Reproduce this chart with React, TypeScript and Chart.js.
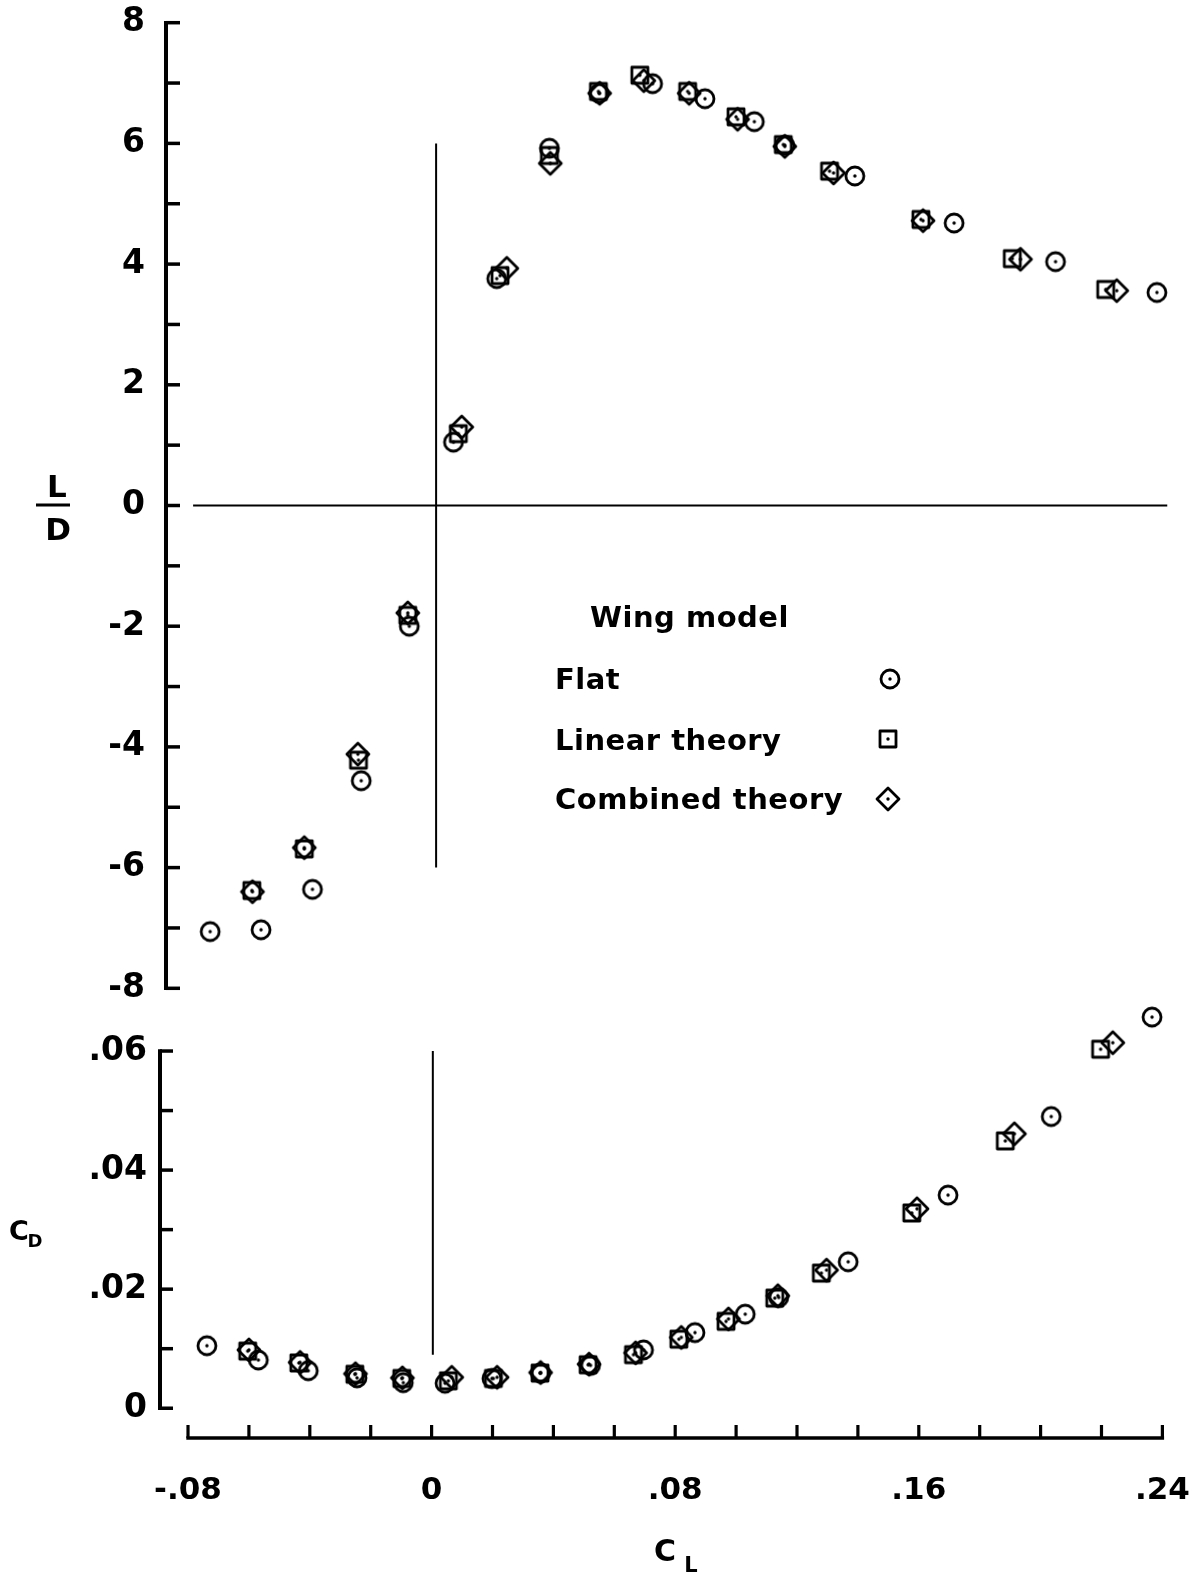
import React, { useEffect, useRef } from "react";
import { Chart, registerables } from "chart.js";

Chart.register(...registerables);

// ---------------- data ----------------
// Upper panel: L/D against C_L
const flatTopCL = [-0.0727, -0.056, -0.0391, -0.0231, -0.0073, 0.0072, 0.0214, 0.0387, 0.055, 0.0726, 0.0898, 0.106, 0.116, 0.139, 0.1716, 0.2049, 0.2382];
const flatTopLD = [-7.06, -7.03, -6.36, -4.56, -2.0, 1.05, 3.76, 5.92, 6.83, 6.99, 6.74, 6.36, 5.97, 5.46, 4.68, 4.04, 3.53];

const linearTopCL = [-0.059, -0.0418, -0.024, -0.0078, 0.0088, 0.0225, 0.0387, 0.0548, 0.0684, 0.0841, 0.1, 0.1155, 0.1307, 0.1607, 0.1907, 0.2214];
const linearTopLD = [-6.38, -5.69, -4.22, -1.82, 1.19, 3.81, 5.8, 6.86, 7.13, 6.86, 6.44, 5.98, 5.54, 4.74, 4.09, 3.58];

const combinedTopCL = [-0.0588, -0.0418, -0.0242, -0.0078, 0.0099, 0.0247, 0.039, 0.0552, 0.0697, 0.0846, 0.1005, 0.116, 0.132, 0.1614, 0.1934, 0.225];
const combinedTopLD = [-6.4, -5.67, -4.12, -1.78, 1.3, 3.93, 5.67, 6.83, 7.04, 6.83, 6.4, 5.95, 5.51, 4.72, 4.08, 3.56];

// Lower panel: C_D against C_L
const flatBotCL = [-0.0738, -0.0569, -0.0405, -0.0245, -0.0093, 0.0044, 0.0198, 0.0358, 0.0522, 0.0696, 0.0865, 0.103, 0.114, 0.1368, 0.1696, 0.2035, 0.2366];
const flatBotCD = [0.0105, 0.0081, 0.0063, 0.0051, 0.0043, 0.0042, 0.005, 0.0059, 0.0072, 0.0098, 0.0127, 0.0158, 0.0186, 0.0246, 0.0358, 0.049, 0.0657];

const linearBotCL = [-0.0604, -0.0436, -0.0252, -0.0098, 0.0055, 0.0203, 0.0356, 0.0514, 0.0663, 0.0812, 0.0967, 0.1127, 0.128, 0.1577, 0.1884, 0.2197];
const linearBotCD = [0.0096, 0.0076, 0.0057, 0.005, 0.0046, 0.005, 0.0059, 0.0073, 0.009, 0.0116, 0.0146, 0.0185, 0.0227, 0.0328, 0.0449, 0.0603];

const combinedBotCL = [-0.06, -0.0432, -0.025, -0.0096, 0.0066, 0.0215, 0.0358, 0.0517, 0.067, 0.082, 0.0975, 0.1137, 0.1297, 0.1594, 0.1914, 0.2237];
const combinedBotCD = [0.0098, 0.0077, 0.0058, 0.0051, 0.0052, 0.0052, 0.006, 0.0074, 0.0093, 0.0119, 0.015, 0.0189, 0.0232, 0.0335, 0.0461, 0.0614];

// reference lines
const zeroLineCL = [-0.0783, 0.2416];
const zeroLineLD = [0, 0];
const topVertCL = [0.0015, 0.0015];
const topVertLD = [6, -6];
const botVertCL = [0.0004, 0.0004];
const botVertCD = [0.06, 0.009];

// ticks
const ldTickValues = [8, 6, 4, 2, 0, -2, -4, -6, -8];
const ldTickLabels = ["8", "6", "4", "2", "0", "-2", "-4", "-6", "-8"];
const ldAxisRange = [-8, 8];
const ldMinorStep = 1;
const cdTickValues = [0.06, 0.04, 0.02, 0];
const cdTickLabels = [".06", ".04", ".02", "0"];
const cdAxisRange = [0, 0.06];
const cdMinorStep = 0.01;
const clTickValues = [-0.08, 0, 0.08, 0.16, 0.24];
const clTickLabels = ["-.08", "0", ".08", ".16", ".24"];
const clAxisRange = [-0.08, 0.24];
const clMinorStep = 0.02;

const legendTitle = "Wing model";
const seriesNames = ["Flat", "Linear theory", "Combined theory"];

// ---------------- helpers ----------------
const FONT = '"DejaVu Sans", "Liberation Sans", sans-serif';

type Kind = "circle" | "square" | "diamond";
function makeMarker(kind: Kind): HTMLCanvasElement {
  const s = 30;
  const c = document.createElement("canvas");
  c.width = s;
  c.height = s;
  const g = c.getContext("2d")!;
  const m = s / 2;
  g.strokeStyle = "#000";
  g.fillStyle = "#000";
  g.lineWidth = 2.8;
  g.lineJoin = "round";
  g.beginPath();
  if (kind === "circle") g.arc(m, m, 9, 0, Math.PI * 2);
  else if (kind === "square") g.rect(m - 8, m - 8, 16, 16);
  else {
    g.moveTo(m, m - 11);
    g.lineTo(m + 11, m);
    g.lineTo(m, m + 11);
    g.lineTo(m - 11, m);
    g.closePath();
  }
  g.stroke();
  g.beginPath();
  g.arc(m, m, 1.7, 0, Math.PI * 2);
  g.fill();
  return c;
}

const toPts = (xs: number[], ys: number[]) => xs.map((x, i) => ({ x, y: ys[i] }));

function markerDs(label: string, xs: number[], ys: number[], img: HTMLCanvasElement) {
  return {
    label,
    data: toPts(xs, ys),
    showLine: false,
    pointStyle: img as any,
    pointRadius: 10,
    borderColor: "#000",
    backgroundColor: "rgba(0,0,0,0)",
    clip: false,
    order: 1,
  };
}

function lineDs(xs: number[], ys: number[]) {
  return {
    label: "",
    data: toPts(xs, ys),
    showLine: true,
    pointRadius: 0,
    borderColor: "#000",
    borderWidth: 2,
    clip: false,
    order: 10,
  };
}

function drawLine(ctx: CanvasRenderingContext2D, x1: number, y1: number, x2: number, y2: number, w: number) {
  ctx.lineWidth = w;
  ctx.beginPath();
  ctx.moveTo(x1, y1);
  ctx.lineTo(x2, y2);
  ctx.stroke();
}

const noPad = (s: any) => {
  s.paddingTop = 0;
  s.paddingBottom = 0;
  s.paddingLeft = 0;
  s.paddingRight = 0;
};

export default function App() {
  const topRef = useRef<HTMLCanvasElement>(null);
  const botRef = useRef<HTMLCanvasElement>(null);

  useEffect(() => {
    const mCircle = makeMarker("circle");
    const mSquare = makeMarker("square");
    const mDiamond = makeMarker("diamond");
    const markers = [mCircle, mSquare, mDiamond];

    const topAxesPlugin = {
      id: "topAxes",
      afterDatasetsDraw(chart: any) {
        const ctx: CanvasRenderingContext2D = chart.ctx;
        const yS = chart.scales.y;
        const ax = chart.chartArea.left;
        ctx.save();
        ctx.strokeStyle = "#000";
        ctx.lineCap = "butt";
        drawLine(ctx, ax, yS.getPixelForValue(ldAxisRange[1]) - 1.7, ax, yS.getPixelForValue(ldAxisRange[0]) + 1.7, 4);
        for (let v = ldAxisRange[0]; v <= ldAxisRange[1] + 1e-9; v += ldMinorStep) {
          const py = yS.getPixelForValue(v);
          drawLine(ctx, ax, py, ax + 14, py, 3.5);
        }
        // L / D title
        ctx.fillStyle = "#000";
        ctx.font = `bold 31px ${FONT}`;
        ctx.textAlign = "center";
        ctx.textBaseline = "alphabetic";
        ctx.fillText("L", 57, 497);
        ctx.fillText("D", 58, 540);
        drawLine(ctx, 36, 505, 70, 505, 3);
        // legend
        (ctx as any).letterSpacing = "0.5px";
        ctx.textAlign = "left";
        ctx.font = `bold 29px ${FONT}`;
        ctx.fillText(legendTitle, 590, 627);
        const baselines = [689, 750, 809];
        const mk = [
          [890, 679],
          [888, 739],
          [888, 799],
        ];
        seriesNames.forEach((n, i) => {
          ctx.fillText(n, 555, baselines[i]);
          const img = markers[i];
          ctx.drawImage(img, mk[i][0] - img.width / 2, mk[i][1] - img.height / 2);
        });
        (ctx as any).letterSpacing = "0px";
        ctx.restore();
      },
    };

    const botAxesPlugin = {
      id: "botAxes",
      afterDatasetsDraw(chart: any) {
        const ctx: CanvasRenderingContext2D = chart.ctx;
        const yS = chart.scales.y;
        const xS = chart.scales.x;
        const ax = chart.chartArea.left;
        const ay = chart.chartArea.bottom;
        ctx.save();
        ctx.strokeStyle = "#000";
        drawLine(ctx, ax, yS.getPixelForValue(cdAxisRange[1]) - 1.7, ax, yS.getPixelForValue(cdAxisRange[0]) + 1.7, 4);
        for (let k = 0; k <= Math.round((cdAxisRange[1] - cdAxisRange[0]) / cdMinorStep); k++) {
          const py = yS.getPixelForValue(cdAxisRange[0] + k * cdMinorStep);
          drawLine(ctx, ax, py, ax + 13, py, 3.5);
        }
        drawLine(ctx, xS.getPixelForValue(clAxisRange[0]) - 1.7, ay, xS.getPixelForValue(clAxisRange[1]) + 1.7, ay, 3.5);
        for (let k = 0; k <= Math.round((clAxisRange[1] - clAxisRange[0]) / clMinorStep); k++) {
          const px = xS.getPixelForValue(clAxisRange[0] + k * clMinorStep);
          drawLine(ctx, px, ay, px, ay - 13, 3.2);
        }
        // titles
        ctx.fillStyle = "#000";
        ctx.textAlign = "center";
        ctx.textBaseline = "alphabetic";
        ctx.font = `bold 27px ${FONT}`;
        ctx.fillText("C", 19, 260);
        ctx.font = `bold 18px ${FONT}`;
        ctx.fillText("D", 35, 267);
        ctx.font = `bold 30px ${FONT}`;
        ctx.fillText("C", 665, 581);
        ctx.font = `bold 21px ${FONT}`;
        ctx.fillText("L", 691, 592);
        ctx.restore();
      },
    };

    const common = {
      responsive: false,
      animation: false as const,
      events: [] as any[],
      plugins: { legend: { display: false }, tooltip: { enabled: false } },
    };

    const topChart = new Chart(topRef.current!, {
      type: "scatter",
      data: {
        datasets: [
          markerDs(seriesNames[0], flatTopCL, flatTopLD, mCircle),
          markerDs(seriesNames[1], linearTopCL, linearTopLD, mSquare),
          markerDs(seriesNames[2], combinedTopCL, combinedTopLD, mDiamond),
          lineDs(zeroLineCL, zeroLineLD),
          lineDs(topVertCL, topVertLD),
        ] as any,
      },
      options: {
        ...common,
        layout: { padding: { left: 0, right: 21, top: 22.7, bottom: 21.7 } },
        scales: {
          x: { type: "linear", min: -0.0872, max: 0.2425, display: false },
          y: {
            type: "linear",
            min: ldAxisRange[0],
            max: ldAxisRange[1],
            afterBuildTicks: (s: any) => {
              s.ticks = ldTickValues.map((v) => ({ value: v }));
            },
            afterFit: (s: any) => {
              s.width = 166;
              noPad(s);
            },
            grid: { display: false, drawTicks: false },
            border: { display: false },
            ticks: {
              padding: 21,
              color: "#000",
              autoSkip: false,
              font: { family: FONT, size: 33, weight: "bold" },
              callback: (_v: any, i: number) => ldTickLabels[i],
            },
          },
        },
      } as any,
      plugins: [topAxesPlugin],
    });

    const botChart = new Chart(botRef.current!, {
      type: "scatter",
      data: {
        datasets: [
          markerDs(seriesNames[0], flatBotCL, flatBotCD, mCircle),
          markerDs(seriesNames[1], linearBotCL, linearBotCD, mSquare),
          markerDs(seriesNames[2], combinedBotCL, combinedBotCD, mDiamond),
          lineDs(botVertCL, botVertCD),
        ] as any,
      },
      options: {
        ...common,
        layout: { padding: { left: 0, right: 21, top: 23.4, bottom: 0 } },
        scales: {
          x: {
            type: "linear",
            min: -0.0892,
            max: 0.2425,
            afterBuildTicks: (s: any) => {
              s.ticks = clTickValues.map((v) => ({ value: v }));
            },
            afterFit: (s: any) => {
              s.height = 136;
              noPad(s);
            },
            grid: { display: false, drawTicks: false },
            border: { display: false },
            ticks: {
              padding: 34,
              color: "#000",
              autoSkip: false,
              maxRotation: 0,
              minRotation: 0,
              font: { family: FONT, size: 31, weight: "bold" },
              callback: (_v: any, i: number) => clTickLabels[i],
            },
          },
          y: {
            type: "linear",
            min: -0.005,
            max: 0.068,
            afterBuildTicks: (s: any) => {
              s.ticks = cdTickValues.map((v) => ({ value: v }));
            },
            afterFit: (s: any) => {
              s.width = 160;
              noPad(s);
            },
            grid: { display: false, drawTicks: false },
            border: { display: false },
            ticks: {
              padding: 13,
              color: "#000",
              autoSkip: false,
              font: { family: FONT, size: 33, weight: "bold" },
              callback: (_v: any, i: number) => cdTickLabels[i],
            },
          },
        },
      } as any,
      plugins: [botAxesPlugin],
    });

    return () => {
      topChart.destroy();
      botChart.destroy();
    };
  }, []);

  return (
    <div style={{ position: "absolute", left: 0, top: 0, width: 1191, height: 1574, background: "#fff" }}>
      <canvas ref={topRef} width={1191} height={1010} style={{ position: "absolute", left: 0, top: 0 }} />
      <canvas ref={botRef} width={1191} height={594} style={{ position: "absolute", left: 0, top: 980 }} />
    </div>
  );
}
